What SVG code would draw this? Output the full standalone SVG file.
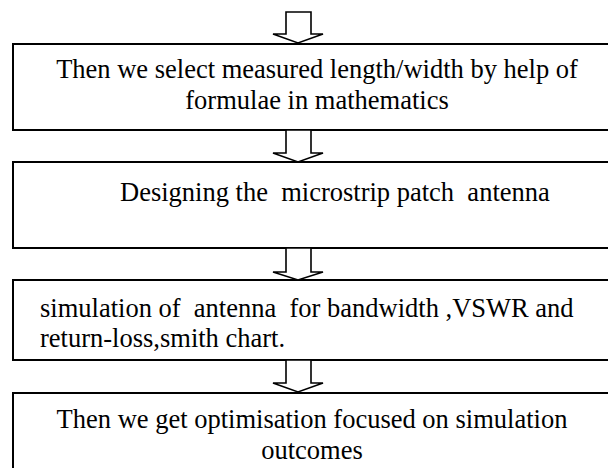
<svg xmlns="http://www.w3.org/2000/svg" width="608" height="468" viewBox="0 0 608 468">
<style>
.box{fill:#fff;stroke:#000;stroke-width:2}
.arr{fill:#fff;stroke:#000;stroke-width:1.6;stroke-linejoin:miter}
.t{font-family:'Liberation Serif','Times New Roman','DejaVu Serif',serif;font-size:26.5px;fill:#000}
.c{text-anchor:middle}
</style>
<rect width="608" height="468" fill="#fff"/>
<g id="n1">
<rect class="box" x="13" y="44" width="630" height="86"/>
<text class="t c" x="317" y="78">Then we select measured length/width by help of</text>
<text class="t c" x="317" y="109">formulae in mathematics</text>
</g>
<g id="n2">
<rect class="box" x="13" y="162" width="630" height="86"/>
<text class="t" x="120" y="201" xml:space="preserve">Designing the  microstrip patch  antenna</text>
</g>
<g id="n3">
<rect class="box" x="13" y="280" width="630" height="80"/>
<text class="t" x="40" y="317" xml:space="preserve">simulation of  antenna  for bandwidth ,VSWR and</text>
<text class="t" x="40" y="347">return-loss,smith chart.</text>
</g>
<g id="n4">
<rect class="box" x="13" y="393" width="630" height="90"/>
<text class="t c" x="312" y="428">Then we get optimisation focused on simulation</text>
<text class="t c" x="312" y="459">outcomes</text>
</g>
<g id="connectors">
<polygon class="arr" points="286,12 311,12 311,34 323,34 298,43 273,34 286,34"/>
<polygon class="arr" points="286,130 311,130 311,153 323,153 298,162 273,153 286,153"/>
<polygon class="arr" points="286,248 311,248 311,272 323,272 298,280 273,272 286,272"/>
<polygon class="arr" points="286,360 311,360 311,383 323,383 298,392 273,383 286,383"/>
</g>
</svg>
